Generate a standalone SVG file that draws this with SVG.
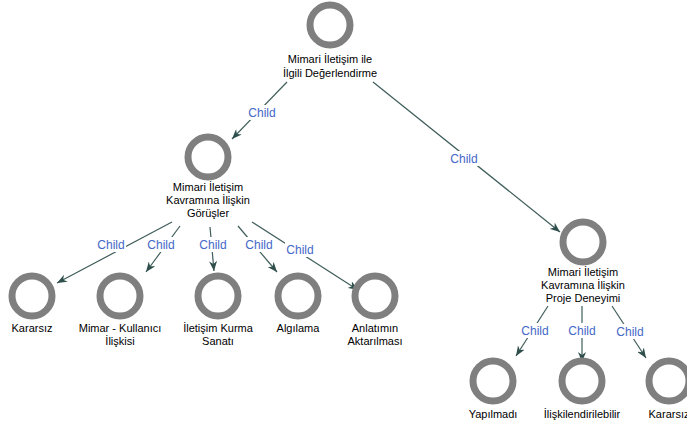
<svg xmlns="http://www.w3.org/2000/svg" width="687" height="428" viewBox="0 0 687 428">
<defs>
<style>
.ring{fill:none;stroke:#7f7f7f;stroke-width:7}
.lbl{font-family:"Liberation Sans",Arial,sans-serif;font-size:11px;fill:#000;text-anchor:middle}
.edge{stroke:#3f5d5a;stroke-width:1.2;fill:none;marker-end:url(#arr)}
.cl{font-family:"Liberation Sans",Arial,sans-serif;font-size:12px;fill:#4468c8;text-anchor:middle}
.bg{fill:#fff}
</style>
<marker id="arr" viewBox="0 0 10 8" refX="10" refY="4" markerWidth="10" markerHeight="8" markerUnits="userSpaceOnUse" orient="auto">
<path d="M0,0 L10,4 L0,8 L3,4 z" fill="#2f4f4c"/>
</marker>
</defs>
<rect width="687" height="428" fill="#fff"/>
<g id="connectors">
<line class="edge" x1="287" y1="82" x2="232" y2="139"/>
<line class="edge" x1="373" y1="82" x2="560" y2="232"/>
<line class="edge" x1="172" y1="222" x2="57" y2="283"/>
<line class="edge" x1="180" y1="226" x2="146" y2="272"/>
<line class="edge" x1="210" y1="227" x2="214" y2="271"/>
<line class="edge" x1="238" y1="226" x2="277" y2="272"/>
<line class="edge" x1="252" y1="222" x2="358" y2="290"/>
<line class="edge" x1="548" y1="306" x2="516" y2="356"/>
<line class="edge" x1="582" y1="306" x2="582" y2="362"/>
<line class="edge" x1="612" y1="306" x2="646" y2="358"/>
<g>
<rect class="bg" x="247" y="105" width="30" height="15"/><text class="cl" x="262" y="117">Child</text>
<rect class="bg" x="449" y="151" width="30" height="15"/><text class="cl" x="464" y="163">Child</text>
<rect class="bg" x="96" y="237" width="30" height="15"/><text class="cl" x="111" y="249">Child</text>
<rect class="bg" x="146" y="237" width="30" height="15"/><text class="cl" x="161" y="249">Child</text>
<rect class="bg" x="198" y="237" width="30" height="15"/><text class="cl" x="213" y="249">Child</text>
<rect class="bg" x="244" y="237" width="30" height="15"/><text class="cl" x="259" y="249">Child</text>
<rect class="bg" x="285" y="242" width="30" height="15"/><text class="cl" x="300" y="254">Child</text>
<rect class="bg" x="520" y="323" width="30" height="15"/><text class="cl" x="535" y="335">Child</text>
<rect class="bg" x="567" y="323" width="30" height="15"/><text class="cl" x="582" y="335">Child</text>
<rect class="bg" x="615" y="324" width="30" height="15"/><text class="cl" x="630" y="336">Child</text>
</g>
</g>
<g id="n-root"><circle class="ring" cx="330" cy="25" r="20"/><text class="lbl" x="330" y="63">Mimari İletişim ile</text><text class="lbl" x="330" y="77">İlgili Değerlendirme</text></g>
<g id="n-gorusler"><circle class="ring" cx="208" cy="157" r="20"/><text class="lbl" x="208" y="191">Mimari İletişim</text><text class="lbl" x="208" y="204">Kavramına İlişkin</text><text class="lbl" x="208" y="217">Görüşler</text></g>
<g id="n-proje"><circle class="ring" cx="583" cy="242" r="20"/><text class="lbl" x="583" y="276">Mimari İletişim</text><text class="lbl" x="583" y="289">Kavramına İlişkin</text><text class="lbl" x="583" y="302">Proje Deneyimi</text></g>
<g id="n-kararsiz1"><circle class="ring" cx="32" cy="296" r="20"/><text class="lbl" x="32" y="332">Kararsız</text></g>
<g id="n-mimar"><circle class="ring" cx="120" cy="296" r="20"/><text class="lbl" x="120" y="332">Mimar - Kullanıcı</text><text class="lbl" x="120" y="345">İlişkisi</text></g>
<g id="n-iletisim"><circle class="ring" cx="218" cy="296" r="20"/><text class="lbl" x="218" y="332">İletişim Kurma</text><text class="lbl" x="218" y="345">Sanatı</text></g>
<g id="n-algilama"><circle class="ring" cx="298" cy="296" r="20"/><text class="lbl" x="298" y="332">Algılama</text></g>
<g id="n-anlatim"><circle class="ring" cx="375" cy="296" r="20"/><text class="lbl" x="375" y="332">Anlatımın</text><text class="lbl" x="375" y="345">Aktarılması</text></g>
<g id="n-yapilmadi"><circle class="ring" cx="493" cy="381" r="20"/><text class="lbl" x="493" y="418">Yapılmadı</text></g>
<g id="n-iliskilendirilebilir"><circle class="ring" cx="582" cy="381" r="20"/><text class="lbl" x="582" y="418">İlişkilendirilebilir</text></g>
<g id="n-kararsiz2"><circle class="ring" cx="669" cy="381" r="20"/><text class="lbl" x="669" y="418">Kararsız</text></g>
</svg>
